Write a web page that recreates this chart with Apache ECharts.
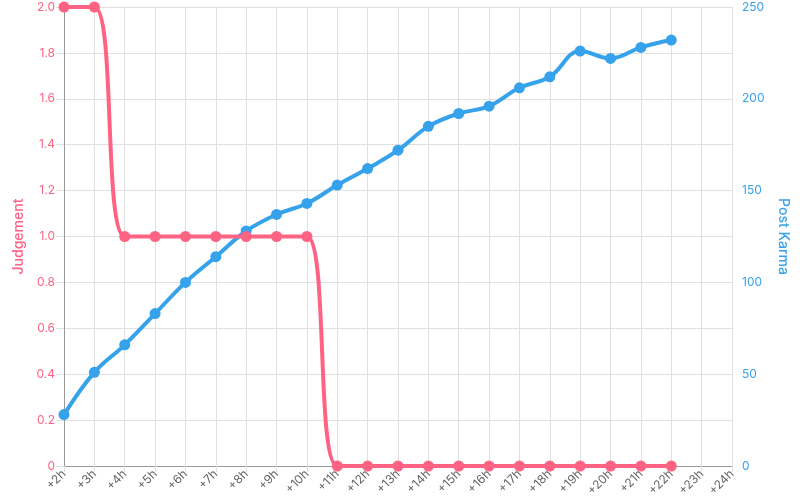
<!DOCTYPE html>
<html>
<head>
<meta charset="utf-8">
<script src="https://cdn.jsdelivr.net/npm/echarts@6/dist/echarts.min.js"></script>
<style>
  html, body { margin: 0; padding: 0; background: #fff; }
  #chart { width: 800px; height: 500px; }
</style>
</head>
<body>
<div id="chart"></div>
<script>
  const hours = ['+2h','+3h','+4h','+5h','+6h','+7h','+8h','+9h','+10h','+11h','+12h','+13h',
    '+14h','+15h','+16h','+17h','+18h','+19h','+20h','+21h','+22h','+23h','+24h'];
  const judgement = [2, 2, 1, 1, 1, 1, 1, 1, 1, 0, 0, 0, 0, 0, 0, 0, 0, 0, 0, 0, 0, null, null];
  const karma = [28, 51, 66, 83, 100, 114, 128, 137, 143, 153, 162, 172, 185, 192, 196, 206, 212, 226, 222, 228, 232, null, null];

  const pink = '#ff6384';
  const blue = '#36a2eb';
  const font = 'Inter, Liberation Sans, sans-serif';

  let chart = echarts.init(document.getElementById('chart'));
  let option = {
    animation: false,
    grid: { left: 64, right: 68, top: 7, bottom: 34 },
    xAxis: {
      type: 'category',
      data: hours,
      boundaryGap: false,
      axisLine: { lineStyle: { color: '#999' } },
      axisTick: { show: true, length: 6, lineStyle: { color: '#e0e0e0' } },
      axisLabel: { rotate: 45, color: '#666', fontSize: 12, fontFamily: font, margin: 6, interval: 0 },
      splitLine: { show: true, lineStyle: { color: '#e0e0e0' } }
    },
    yAxis: [
      {
        type: 'value',
        min: 0, max: 2, interval: 0.2,
        name: 'Judgement',
        nameLocation: 'middle',
        nameRotate: 90,
        nameGap: 38,
        nameTextStyle: { color: pink, fontSize: 14, fontWeight: 500, fontFamily: font },
        axisLine: { show: true, lineStyle: { color: '#999' } },
        axisTick: { show: true, length: 8, lineStyle: { color: '#e0e0e0' } },
        axisLabel: {
          color: pink, fontSize: 12, fontFamily: font, margin: 9,
          formatter: v => v === 0 ? '0' : v.toFixed(1)
        },
        splitLine: { show: true, lineStyle: { color: '#e0e0e0' } }
      },
      {
        type: 'value',
        min: 0, max: 250, interval: 50,
        name: 'Post Karma',
        nameLocation: 'middle',
        nameRotate: -90,
        nameGap: 44,
        nameTextStyle: { color: blue, fontSize: 14, fontWeight: 500, fontFamily: font },
        axisLine: { show: false },
        axisTick: { show: false },
        axisLabel: { color: blue, fontSize: 12, fontFamily: font, margin: 10 },
        splitLine: { show: false }
      }
    ],
    series: [
      {
        name: 'Judgement',
        type: 'line',
        yAxisIndex: 0,
        data: judgement,
        smooth: 0.4,
        symbol: 'circle',
        symbolSize: 11,
        lineStyle: { color: pink, width: 4 },
        itemStyle: { color: pink },
        z: 3
      },
      {
        name: 'Post Karma',
        type: 'line',
        yAxisIndex: 1,
        data: karma,
        smooth: 0.4,
        symbol: 'circle',
        symbolSize: 11,
        lineStyle: { color: blue, width: 4 },
        itemStyle: { color: blue },
        z: 2
      }
    ]
  };
  chart.setOption(option);
</script>
</body>
</html>
